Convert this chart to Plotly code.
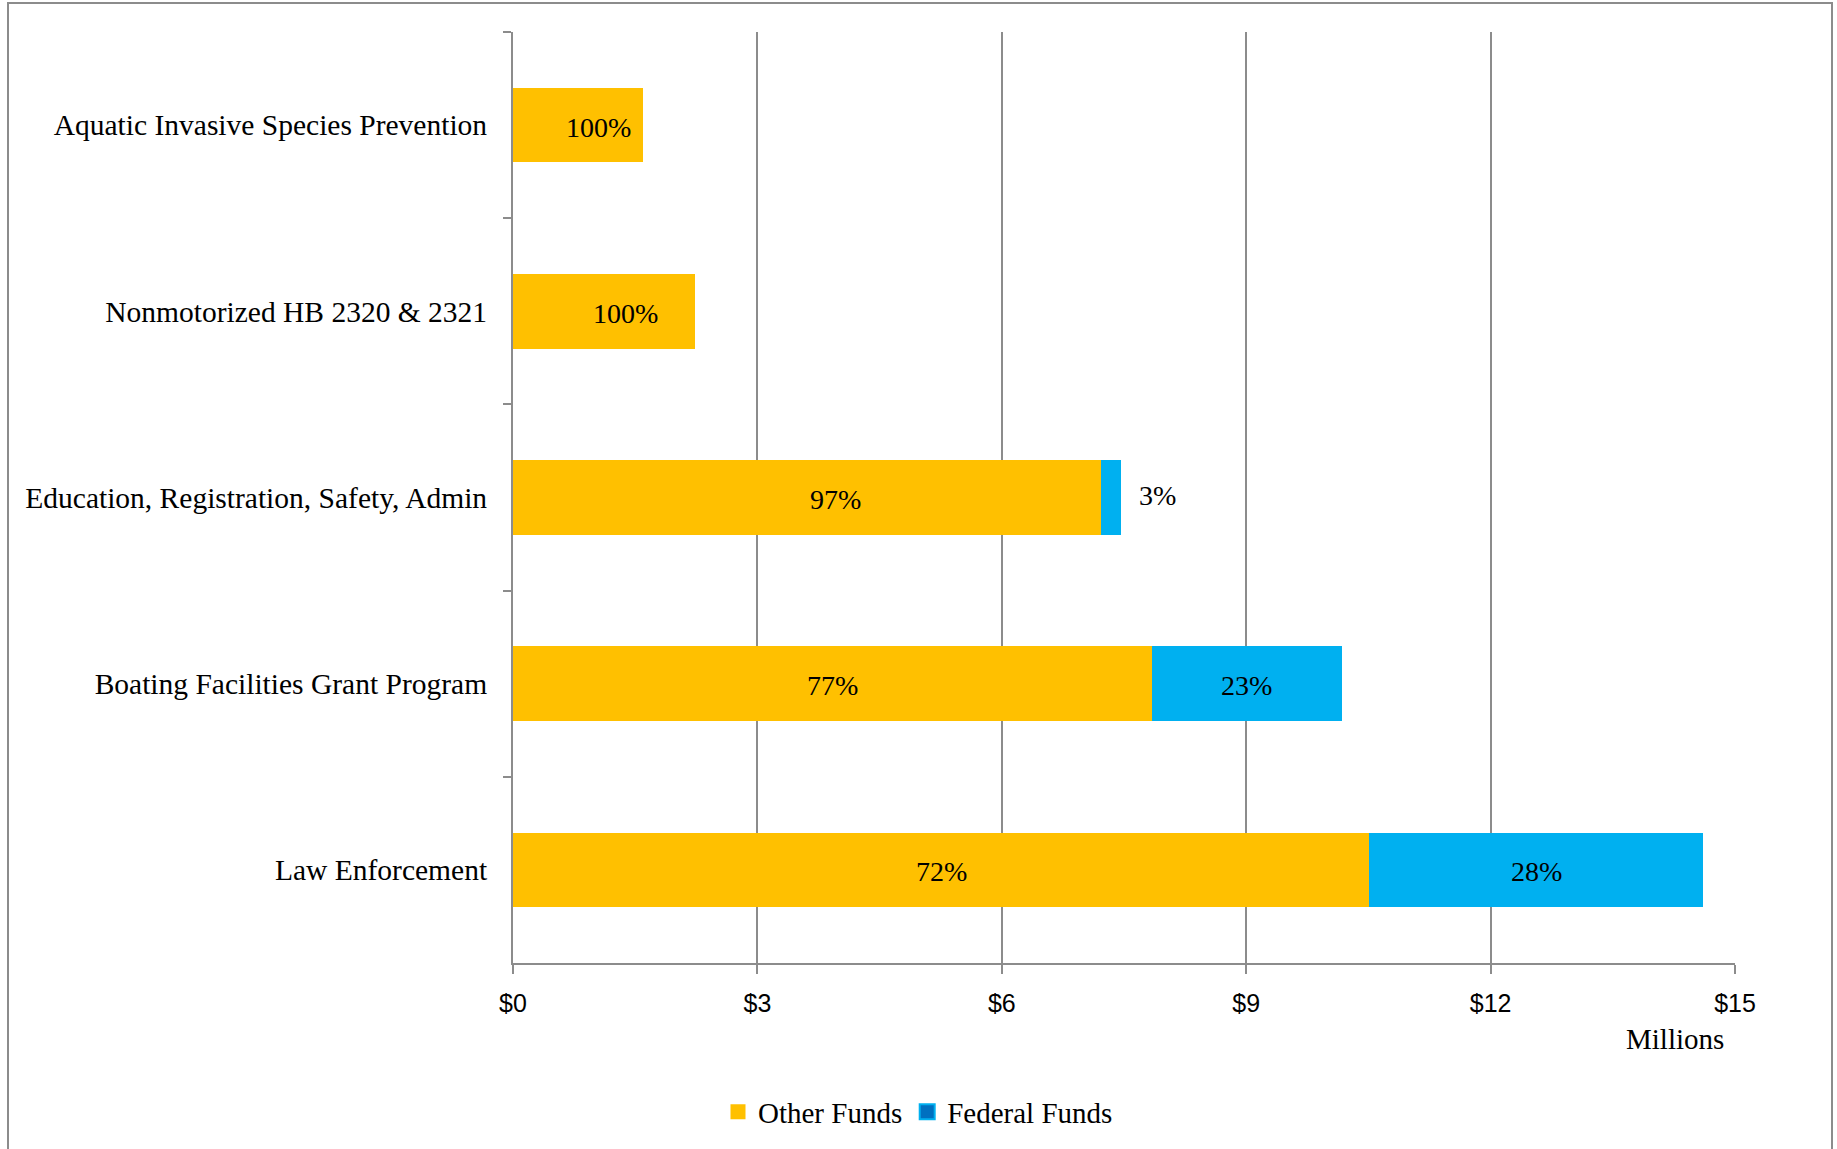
import plotly.graph_objects as go

# ---- data ----
categories = [
    "Aquatic Invasive Species Prevention",
    "Nonmotorized HB 2320 & 2321",
    "Education, Registration, Safety, Admin",
    "Boating Facilities Grant Program",
    "Law Enforcement",
]
other_funds = [1.60, 2.24, 7.22, 7.84, 10.51]      # $ millions
federal_funds = [0.0, 0.0, 0.24, 2.33, 4.10]       # $ millions
other_labels = ["100%", "100%", "97%", "77%", "72%"]
federal_labels = ["", "", "3%", "23%", "28%"]
x_tickvals = [0, 3, 6, 9, 12, 15]
x_ticktext = ["$0", "$3", "$6", "$9", "$12", "$15"]

# ---- styles ----
C_OTHER = "#FFC000"
C_FED = "#00B0F0"
C_FED_LEG = "#0070C0"
GRID = "#8C8C8C"
SERIF = "Liberation Serif, Times New Roman, serif"
NARROW = "Liberation Sans Narrow, Liberation Sans, Arial, sans-serif"

W, H = 1837, 1149
L, R, T, B = 513, W - 1735, 32, H - 963
PW, PH = W - L - R, H - T - B

fig = go.Figure()
fig.add_trace(go.Bar(
    y=categories, x=other_funds, orientation="h", name="Other Funds",
    marker=dict(color=C_OTHER, line=dict(width=0)), showlegend=False,
))
fig.add_trace(go.Bar(
    y=categories, x=federal_funds, orientation="h", name="Federal Funds",
    marker=dict(color=C_FED, line=dict(width=0)), showlegend=False,
))

# legend entries (square swatches)
fig.add_trace(go.Scatter(
    x=[None], y=[None], mode="markers", name="Other Funds",
    marker=dict(symbol="square", size=15, color=C_OTHER, line=dict(width=0)),
))
fig.add_trace(go.Scatter(
    x=[None], y=[None], mode="markers", name="Federal Funds",
    marker=dict(symbol="square", size=15, color=C_FED_LEG, line=dict(width=2, color=C_FED)),
))

annotations = []
other_shift = [20, 21, 28, 0, 0]
for cat, o, lab, dx in zip(categories, other_funds, other_labels, other_shift):
    annotations.append(dict(x=o / 2, y=cat, text=lab, showarrow=False, xshift=dx, yshift=-2,
                            font=dict(family=SERIF, size=28, color="black")))
for cat, o, f, lab in zip(categories, other_funds, federal_funds, federal_labels):
    if not lab:
        continue
    if f / (o + f) < 0.1:
        annotations.append(dict(x=o + f, y=cat, text=lab, showarrow=False, xanchor="left",
                                xshift=16, yshift=2, font=dict(family=SERIF, size=28, color="black")))
    else:
        annotations.append(dict(x=o + f / 2, y=cat, text=lab, showarrow=False, yshift=-2,
                                font=dict(family=SERIF, size=28, color="black")))

annotations.append(dict(xref="paper", yref="paper", x=1, y=(963 - 1039) / PH, xanchor="right",
                        yanchor="middle", xshift=-9, text="Millions", showarrow=False,
                        font=dict(family=SERIF, size=29, color="black")))

shapes = [dict(type="rect", xref="paper", yref="paper",
               x0=(8 - L) / PW, x1=(1832 - L) / PW,
               y0=(963 - 1170) / PH, y1=(963 - 3) / PH,
               line=dict(color="#8C8C8C", width=2), fillcolor="rgba(0,0,0,0)", layer="below")]

fig.update_layout(
    width=W, height=H,
    margin=dict(l=L, r=R, t=T, b=B, pad=0),
    barmode="stack", bargap=0.6,
    plot_bgcolor="white", paper_bgcolor="white",
    font=dict(family=SERIF, color="black"),
    showlegend=True,
    legend=dict(orientation="h", x=(918 - L) / PW, xanchor="center",
                y=(963 - 1112) / PH, yanchor="middle", traceorder="normal",
                font=dict(family=SERIF, size=29, color="black"),
                itemwidth=30, tracegroupgap=0, bgcolor="rgba(0,0,0,0)"),
    annotations=annotations,
    shapes=shapes,
    xaxis=dict(range=[0, 15], tickvals=x_tickvals, ticktext=x_ticktext,
               showgrid=True, gridcolor=GRID, gridwidth=2,
               showline=True, linecolor=GRID, linewidth=2,
               ticks="outside", ticklen=9, tickcolor=GRID, tickwidth=2,
               zeroline=False, ticklabelstandoff=8,
               tickfont=dict(family=NARROW, size=25, color="black"), fixedrange=True),
    yaxis=dict(categoryorder="array", categoryarray=categories, autorange="reversed",
               showgrid=False, showline=True, linecolor=GRID, linewidth=2,
               ticks="outside", ticklen=8, tickcolor=GRID, tickwidth=2,
               tickson="boundaries", ticklabelstandoff=18,
               tickfont=dict(family=SERIF, size=29.5, color="black"), fixedrange=True),
)

fig.write_html("out.html")
